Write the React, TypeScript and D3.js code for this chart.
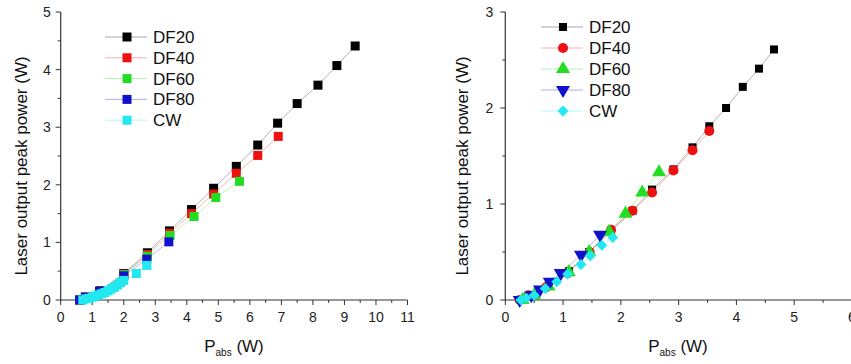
import React from 'react'
import * as d3 from 'd3'

// Left panel (square markers everywhere)
const leftDF20X = [0.6, 0.8, 1.25, 2.0, 2.75, 3.45, 4.15, 4.85, 5.57, 6.25, 6.88, 7.5, 8.16, 8.76, 9.34]
const leftDF20Y = [0, 0.05, 0.16, 0.46, 0.82, 1.2, 1.57, 1.94, 2.32, 2.69, 3.07, 3.41, 3.73, 4.07, 4.41]
const leftDF40X = [0.6, 0.8, 1.25, 2.0, 2.75, 3.45, 4.15, 4.85, 5.57, 6.25, 6.9]
const leftDF40Y = [0, 0.05, 0.15, 0.45, 0.79, 1.16, 1.5, 1.84, 2.2, 2.51, 2.84]
const leftDF60X = [0.6, 0.8, 1.25, 2.0, 2.75, 3.47, 4.23, 4.92, 5.67]
const leftDF60Y = [0, 0.04, 0.14, 0.44, 0.76, 1.12, 1.45, 1.78, 2.06]
const leftDF80X = [0.6, 0.78, 1.23, 2.0, 2.73, 3.43]
const leftDF80Y = [0, 0.05, 0.15, 0.42, 0.71, 1.01]
const leftCWX = [0.7, 0.8, 0.9, 1.0, 1.1, 1.2, 1.3, 1.4, 1.5, 1.6, 1.7, 1.8, 1.9, 2.0, 2.4, 2.73]
const leftCWY = [0, 0.02, 0.03, 0.05, 0.07, 0.09, 0.11, 0.13, 0.16, 0.19, 0.22, 0.26, 0.3, 0.34, 0.46, 0.6]

// Right panel
const rightDF20X = [0.3, 0.5, 0.75, 1.1, 1.45, 1.83, 2.2, 2.54, 2.91, 3.24, 3.53, 3.82, 4.11, 4.39, 4.65]
const rightDF20Y = [0, 0.05, 0.15, 0.3, 0.5, 0.72, 0.93, 1.15, 1.36, 1.59, 1.81, 2.0, 2.22, 2.41, 2.61]
const rightDF40X = [0.25, 0.4, 0.7, 1.08, 1.46, 1.83, 2.2, 2.54, 2.91, 3.24, 3.53]
const rightDF40Y = [0, 0.05, 0.13, 0.28, 0.5, 0.73, 0.93, 1.12, 1.35, 1.56, 1.76]
const rightDF60X = [0.3, 0.5, 0.75, 1.1, 1.45, 1.8, 2.08, 2.37, 2.66]
const rightDF60Y = [0, 0.05, 0.14, 0.29, 0.5, 0.71, 0.9, 1.12, 1.33]
const rightDF80X = [0.25, 0.45, 0.6, 0.77, 0.96, 1.31, 1.64]
const rightDF80Y = [0, 0.05, 0.11, 0.19, 0.28, 0.47, 0.68]
const rightCWX = [0.27, 0.36, 0.5, 0.69, 0.89, 1.08, 1.31, 1.47, 1.67, 1.86]
const rightCWY = [0, 0.02, 0.05, 0.12, 0.19, 0.27, 0.37, 0.46, 0.57, 0.65]

const seriesNames = ['DF20', 'DF40', 'DF60', 'DF80', 'CW']
const seriesColors = ['#000000', '#ee1111', '#22dd22', '#1111cc', '#22e8f0']

const leftXTicks = [0, 1, 2, 3, 4, 5, 6, 7, 8, 9, 10, 11]
const leftYTicks = [0, 1, 2, 3, 4, 5]
const rightXTicks = [0, 1, 2, 3, 4, 5, 6]
const rightYTicks = [0, 1, 2, 3]

const FONT = 'Arial, "Liberation Sans", Helvetica, sans-serif'

type Series = { name: string; color: string; xs: number[]; ys: number[]; symbol: d3.SymbolType; size: number; rot: number }

function Panel({ x0, x1, y0, y1, xTicks, yTicks, series, legend, titleX, yTitleX, labelGap }: any) {
  const x = d3.scaleLinear().domain([xTicks[0], xTicks[xTicks.length - 1]]).range([x0, x1])
  const y = d3.scaleLinear().domain([yTicks[0], yTicks[yTicks.length - 1]]).range([y0, y1])
  const line = d3.line<number>()
  const xMinor = d3.range(xTicks[0], xTicks[xTicks.length - 1], 0.5).filter(v => v % 1 !== 0)
  const yMinor = d3.range(yTicks[0], yTicks[yTicks.length - 1], 0.5).filter(v => v % 1 !== 0)
  const axisColor = '#333'

  return (
    <g fontFamily={FONT}>
      {/* axes */}
      <line x1={x0} x2={x1} y1={y0} y2={y0} stroke={axisColor} strokeWidth={1.2} />
      <line x1={x0} x2={x0} y1={y0} y2={y1} stroke={axisColor} strokeWidth={1.2} />
      {xTicks.map((t: number) => (
        <g key={'xt' + t}>
          <line x1={x(t)} x2={x(t)} y1={y0} y2={y0 + 5} stroke={axisColor} />
          <text x={x(t)} y={y0 + 22} textAnchor="middle" fontSize={14} fill="#222">{t}</text>
        </g>
      ))}
      {xMinor.map((t: number) => (
        <line key={'xm' + t} x1={x(t)} x2={x(t)} y1={y0} y2={y0 + 3} stroke={axisColor} />
      ))}
      {yTicks.map((t: number) => (
        <g key={'yt' + t}>
          <line x1={x0} x2={x0 - 5} y1={y(t)} y2={y(t)} stroke={axisColor} />
          <text x={x0 - labelGap} y={y(t) + 5} textAnchor="end" fontSize={14} fill="#222">{t}</text>
        </g>
      ))}
      {yMinor.map((t: number) => (
        <line key={'ym' + t} x1={x0} x2={x0 - 3} y1={y(t)} y2={y(t)} stroke={axisColor} />
      ))}

      {/* connecting lines */}
      {series.map((s: Series) => (
        <path key={'l' + s.name}
          d={line.x(i => x(s.xs[i])).y(i => y(s.ys[i]))(d3.range(s.xs.length)) || ''}
          fill="none" stroke={s.color} strokeOpacity={0.3} strokeWidth={1} />
      ))}
      {/* markers */}
      {series.map((s: Series) => (
        <g key={'m' + s.name} fill={s.color}>
          {s.xs.map((v, i) => (
            <path key={i} transform={`translate(${x(v)},${y(s.ys[i])}) rotate(${s.rot})`}
              d={d3.symbol().type(s.symbol).size(s.size)() || ''} />
          ))}
        </g>
      ))}

      {/* legend */}
      {series.map((s: Series, i: number) => {
        const ly = legend.y + i * legend.dy
        return (
          <g key={'lg' + s.name}>
            <line x1={legend.x - 22} x2={legend.x + 20} y1={ly} y2={ly} stroke={s.color} strokeOpacity={0.35} />
            <path transform={`translate(${legend.x},${ly}) rotate(${s.rot})`} fill={s.color}
              d={d3.symbol().type(s.symbol).size(s.size)() || ''} />
            <text x={legend.x + 26} y={ly + 6} fontSize={17} fill="#111">{s.name}</text>
          </g>
        )
      })}

      {/* titles */}
      <text x={titleX} y={352} textAnchor="middle" fontSize={17} fill="#111">
        P<tspan dy={4} fontSize={10}>abs</tspan><tspan dy={-4}> (W)</tspan>
      </text>
      <text transform={`translate(${yTitleX},${(y0 + y1) / 2 + 10}) rotate(-90)`} textAnchor="middle" fontSize={17} fill="#111">
        Laser output peak power (W)
      </text>
    </g>
  )
}

export default function App() {
  const leftXs = [leftDF20X, leftDF40X, leftDF60X, leftDF80X, leftCWX]
  const leftYs = [leftDF20Y, leftDF40Y, leftDF60Y, leftDF80Y, leftCWY]
  const leftSeries: Series[] = seriesNames.map((n, i) => ({
    name: n, color: seriesColors[i], xs: leftXs[i], ys: leftYs[i], symbol: d3.symbolSquare, size: 81, rot: 0
  }))

  const rightXs = [rightDF20X, rightDF40X, rightDF60X, rightDF80X, rightCWX]
  const rightYs = [rightDF20Y, rightDF40Y, rightDF60Y, rightDF80Y, rightCWY]
  const rightSymbols = [d3.symbolSquare, d3.symbolCircle, d3.symbolTriangle, d3.symbolTriangle, d3.symbolSquare]
  const rightSizes = [64, 80, 85, 85, 60]
  const rightRots = [0, 0, 0, 180, 45]
  const rightSeries: Series[] = seriesNames.map((n, i) => ({
    name: n, color: seriesColors[i], xs: rightXs[i], ys: rightYs[i], symbol: rightSymbols[i], size: rightSizes[i], rot: rightRots[i]
  }))

  return (
    <svg width={851} height={364} style={{ position: 'absolute', left: 0, top: 0, background: 'white' }}>
      <Panel x0={60.7} x1={407.5} y0={300} y1={12} xTicks={leftXTicks} yTicks={leftYTicks}
        series={leftSeries} legend={{ x: 127, y: 37, dy: 20.8 }} titleX={234} yTitleX={27} labelGap={10} />
      <Panel x0={505.3} x1={852} y0={300} y1={12} xTicks={rightXTicks} yTicks={rightYTicks}
        series={rightSeries} legend={{ x: 563, y: 27, dy: 21 }} titleX={678} yTitleX={468} labelGap={12} />
    </svg>
  )
}
